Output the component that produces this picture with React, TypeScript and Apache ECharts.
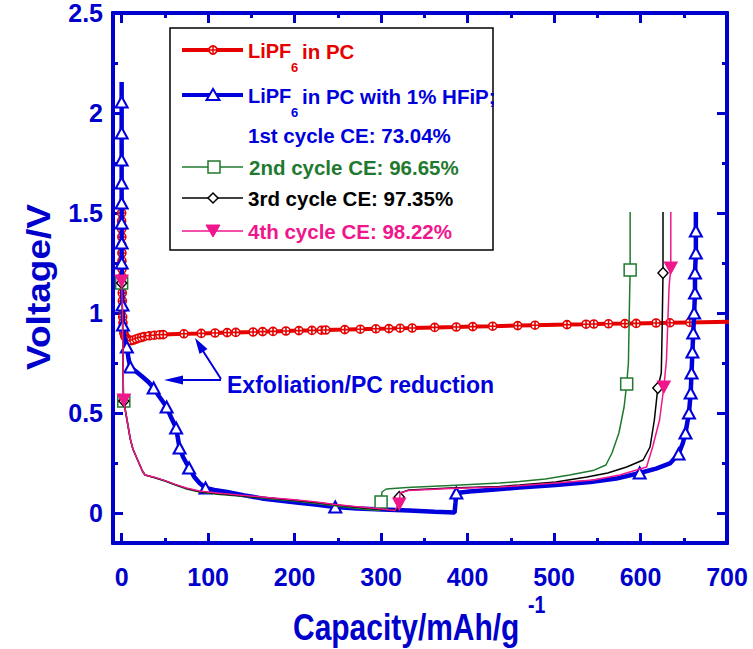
import React, { useEffect, useRef } from "react";
import * as echarts from "echarts";

// ---- tick values ----
const xMajorTicks = [0, 100, 200, 300, 400, 500, 600, 700];
const xMinorTicks = [50, 150, 250, 350, 450, 550, 650];
const yMajorTicks = [0, 0.5, 1, 1.5, 2, 2.5];
const yMinorTicks = [0.25, 0.75, 1.25, 1.75, 2.25];

// ---- series: [capacity mAh/g, voltage V, marker shown (1/0)] ----
const pcOnly: number[][] = [
  [0, 1.5, 1], [0, 1.46, 1], [0, 1.42, 1], [0.2, 1.38, 1], [0.2, 1.34, 1], [0.3, 1.3, 1], [0.3, 1.26, 1],
  [0.4, 1.22, 1], [0.5, 1.18, 1], [0.6, 1.14, 1], [0.7, 1.1, 1], [0.8, 1.06, 1], [1, 1.02, 1], [1.2, 0.98, 1],
  [1.5, 0.95, 1], [2, 0.92, 1], [2.5, 0.9, 1], [3.5, 0.885, 1], [5, 0.875, 1], [7, 0.868, 1], [9, 0.864, 1],
  [11, 0.862, 1], [14, 0.865, 1], [17, 0.87, 1], [20, 0.875, 1], [23, 0.878, 1], [26, 0.882, 1], [32, 0.886, 1],
  [38, 0.889, 1], [44, 0.891, 1], [48, 0.892, 1], [72, 0.896, 1], [92, 0.898, 1], [108, 0.9, 1], [122, 0.902, 1],
  [132, 0.903, 1], [152, 0.905, 1], [163, 0.907, 1], [175, 0.908, 1], [190, 0.91, 1], [205, 0.912, 1],
  [220, 0.913, 1], [231, 0.914, 1], [236, 0.915, 1], [258, 0.917, 1], [276, 0.919, 1], [294, 0.921, 1],
  [309, 0.922, 1], [322, 0.924, 1], [336, 0.925, 1], [362, 0.928, 1], [387, 0.93, 1], [406, 0.932, 1],
  [429, 0.934, 1], [458, 0.937, 1], [478, 0.939, 1], [515, 0.942, 1], [537, 0.944, 1], [546, 0.945, 1],
  [563, 0.946, 1], [582, 0.947, 1], [595, 0.948, 1], [618, 0.95, 1], [634, 0.951, 1], [657, 0.953, 1],
  [730, 0.958, 0],
];

const cycle1: number[][] = [
  [0, 2.155, 0], [0, 2.055, 1], [0, 1.9, 1], [0, 1.765, 1], [0, 1.65, 1], [0, 1.55, 1], [0, 1.45, 1],
  [0, 1.35, 1], [0, 1.25, 1], [1, 1.04, 1], [1.5, 0.94, 1], [3, 0.88, 0], [6, 0.83, 1], [8, 0.77, 0],
  [10, 0.73, 1], [16, 0.71, 0], [23, 0.685, 0], [31, 0.655, 0], [37, 0.625, 1], [43, 0.585, 0],
  [48, 0.555, 0], [52, 0.53, 1], [57, 0.48, 0], [63, 0.425, 1], [65, 0.375, 0], [67, 0.325, 1],
  [71, 0.28, 0], [78, 0.225, 1], [84, 0.18, 0], [90, 0.15, 0], [97, 0.125, 1], [107, 0.115, 0],
  [122, 0.105, 0], [142, 0.088, 0], [162, 0.073, 0], [182, 0.063, 0], [202, 0.053, 0], [224, 0.042, 0],
  [247, 0.03, 1], [272, 0.023, 0], [302, 0.017, 0], [332, 0.012, 0], [362, 0.006, 0], [385, 0.002, 0],
  [386, 0.05, 0], [387, 0.1, 1], [402, 0.108, 0], [432, 0.117, 0], [460, 0.128, 0], [502, 0.14, 0],
  [542, 0.155, 0], [572, 0.172, 0], [599, 0.2, 1], [618, 0.222, 0], [634, 0.248, 0], [644, 0.295, 1],
  [649, 0.35, 0], [652, 0.4, 1], [654, 0.45, 0], [656, 0.5, 1], [658, 0.6, 1], [659, 0.7, 1],
  [660, 0.805, 1], [661, 0.9, 1], [662, 1.0, 1], [663, 1.1, 1], [663, 1.2, 1], [664, 1.3, 1],
  [664, 1.41, 1], [664, 1.505, 0],
];

const cycle2: number[][] = [
  [0, 1.15, 1], [1, 1.0, 0], [1.5, 0.8, 0], [2, 0.6, 0], [2.5, 0.56, 1], [4, 0.52, 0], [6, 0.47, 0],
  [8, 0.42, 0], [10, 0.37, 0], [13, 0.32, 0], [17, 0.28, 0], [21, 0.24, 0], [24, 0.21, 0], [27, 0.19, 0],
  [39, 0.175, 0], [50, 0.16, 0], [62, 0.14, 0], [75, 0.12, 0], [90, 0.105, 0], [110, 0.094, 0],
  [135, 0.085, 0], [168, 0.073, 0], [200, 0.06, 0], [225, 0.048, 0], [247, 0.036, 0], [270, 0.024, 0],
  [290, 0.015, 0], [298, 0.012, 0], [300, 0.055, 1], [301, 0.105, 0], [306, 0.12, 0], [330, 0.128, 0],
  [380, 0.138, 0], [437, 0.15, 0], [460, 0.157, 0], [490, 0.17, 0], [518, 0.19, 0], [545, 0.212, 0],
  [560, 0.24, 0], [567, 0.3, 0], [575, 0.4, 0], [581, 0.53, 0], [584, 0.645, 1], [586, 0.75, 0],
  [587, 1.0, 0], [588, 1.215, 1], [588, 1.505, 0],
];

const cycle3: number[][] = [
  [0, 1.15, 1], [1, 1.0, 0], [1.5, 0.8, 0], [2, 0.6, 0], [2.5, 0.56, 1], [4, 0.52, 0], [6, 0.47, 0],
  [8, 0.42, 0], [10, 0.37, 0], [13, 0.32, 0], [17, 0.28, 0], [21, 0.24, 0], [24, 0.21, 0], [27, 0.19, 0],
  [39, 0.176, 0], [50, 0.161, 0], [62, 0.142, 0], [75, 0.123, 0], [90, 0.108, 0], [110, 0.097, 0],
  [135, 0.088, 0], [168, 0.076, 0], [200, 0.064, 0], [225, 0.053, 0], [247, 0.041, 0], [270, 0.03, 0],
  [295, 0.02, 0], [318, 0.012, 0], [321, 0.08, 1], [322, 0.1, 0], [332, 0.115, 0], [380, 0.125, 0],
  [437, 0.133, 0], [460, 0.14, 0], [502, 0.155, 0], [538, 0.18, 0], [562, 0.2, 0], [584, 0.23, 0],
  [603, 0.265, 0], [611, 0.33, 0], [616, 0.465, 0], [620, 0.625, 1], [624, 0.7, 0], [625, 0.915, 0],
  [626, 1.2, 1], [626, 1.505, 0],
];

const cycle4: number[][] = [
  [0, 1.16, 1], [1, 1.0, 0], [1.5, 0.8, 0], [2, 0.6, 0], [2.5, 0.565, 1], [4, 0.52, 0], [6, 0.47, 0],
  [8, 0.42, 0], [10, 0.37, 0], [13, 0.32, 0], [17, 0.28, 0], [21, 0.24, 0], [24, 0.21, 0], [27, 0.19, 0],
  [39, 0.177, 0], [50, 0.162, 0], [62, 0.143, 0], [75, 0.125, 0], [90, 0.11, 0], [110, 0.1, 0],
  [135, 0.09, 0], [168, 0.078, 0], [200, 0.066, 0], [225, 0.055, 0], [247, 0.043, 0], [270, 0.032, 0],
  [295, 0.022, 0], [316, 0.013, 0], [321, 0.045, 1], [322, 0.1, 0], [332, 0.113, 0], [380, 0.122, 0],
  [437, 0.13, 0], [502, 0.15, 0], [545, 0.165, 0], [576, 0.19, 0], [607, 0.23, 0], [614, 0.33, 0],
  [622, 0.465, 0], [627, 0.63, 1], [630, 0.765, 0], [633, 1.13, 0], [635, 1.225, 1], [635, 1.505, 0],
];

const seriesNames = [
  "LiPF6 in PC",
  "LiPF6 in PC with 1% HFiP; 1st cycle",
  "2nd cycle",
  "3rd cycle",
  "4th cycle",
];

const AX = "#0000cc";
const RED = "#e60000";
const BLUE = "#0000dd";
const GREEN = "#1f7a2f";
const BLACK = "#000000";
const PINK = "#f0168c";
const SANS = "'Liberation Sans', Arial, Helvetica, sans-serif";

const CROSS_CIRCLE = "path://M10,0A10,10,0,1,1,-10,0A10,10,0,1,1,10,0ZM-10,0L10,0M0,-10L0,10";

function toData(pts: number[][], symbol: string) {
  return pts.map(([x, y, m]) => ({ value: [x, y], symbol: m ? symbol : "none" }));
}

function makeXAxis(position: "top" | "bottom", ticks: number[], len: number, labels: boolean) {
  return {
    type: "value",
    min: -10,
    max: 700,
    position,
    splitLine: { show: false },
    axisLine: { show: true, onZero: false, lineStyle: { color: AX, width: 4 } },
    axisTick: { show: true, inside: true, length: len, customValues: ticks, lineStyle: { color: AX, width: 3 } },
    axisLabel: labels
      ? { show: true, customValues: ticks, color: AX, fontSize: 25, fontWeight: "bold", fontFamily: SANS, margin: 21 }
      : { show: false },
  };
}

function makeYAxis(position: "left" | "right", ticks: number[], len: number, labels: boolean) {
  return {
    type: "value",
    min: -0.15,
    max: 2.5,
    position,
    splitLine: { show: false },
    axisLine: { show: true, onZero: false, lineStyle: { color: AX, width: 4 } },
    axisTick: { show: true, inside: true, length: len, customValues: ticks, lineStyle: { color: AX, width: 3 } },
    axisLabel: labels
      ? { show: true, customValues: ticks, color: AX, fontSize: 25, fontWeight: "bold", fontFamily: SANS, margin: 10 }
      : { show: false },
  };
}

function legendText(x: number, y: number, text: string, fill: string, size = 20.5) {
  return {
    type: "text",
    x,
    y,
    z: 20,
    style: { text, fill, fontSize: size, fontWeight: "bold", fontFamily: SANS, textAlign: "left", textVerticalAlign: "middle" },
  };
}

function legendLine(y: number, color: string, width: number) {
  return { type: "line", z: 20, shape: { x1: 182, y1: y, x2: 243, y2: y }, style: { stroke: color, lineWidth: width } };
}

export default function App() {
  const ref = useRef<HTMLDivElement>(null);

  useEffect(() => {
    if (!ref.current) return;
    const chart = echarts.init(ref.current, null, { renderer: "svg" });

    const graphic: any[] = [
      // legend box
      { type: "rect", z: 19, shape: { x: 170, y: 28, width: 323, height: 222 }, style: { fill: "#fff", stroke: "#000", lineWidth: 1.5 } },
      // row 1: LiPF6 in PC
      legendLine(50, RED, 4),
      { type: "circle", z: 21, shape: { cx: 213, cy: 50, r: 4 }, style: { fill: "#fff", stroke: RED, lineWidth: 1.8 } },
      { type: "line", z: 22, shape: { x1: 209, y1: 50, x2: 217, y2: 50 }, style: { stroke: RED, lineWidth: 1.5 } },
      { type: "line", z: 22, shape: { x1: 213, y1: 46, x2: 213, y2: 54 }, style: { stroke: RED, lineWidth: 1.5 } },
      legendText(248, 51, "LiPF", RED, 20),
      legendText(291, 67, "6", RED, 13),
      legendText(302, 51, "in PC", RED),
      // row 2: with HFiP
      legendLine(95, BLUE, 4),
      { type: "polygon", z: 21, shape: { points: [[213, 89], [206.5, 100], [219.5, 100]] }, style: { fill: "#fff", stroke: BLUE, lineWidth: 2 } },
      legendText(248, 96, "LiPF", BLUE, 20),
      legendText(291, 112, "6", BLUE, 13),
      legendText(302, 96, "in PC with 1% HFiP;", BLUE),
      legendText(248, 135, "1st cycle CE: 73.04%", BLUE),
      // row 4: 2nd cycle
      legendLine(167, GREEN, 1.5),
      { type: "rect", z: 21, shape: { x: 208, y: 161, width: 12, height: 12 }, style: { fill: "#fff", stroke: GREEN, lineWidth: 1.5 } },
      legendText(249, 167, "2nd cycle CE: 96.65%", GREEN),
      // row 5: 3rd cycle
      legendLine(198, BLACK, 1.5),
      { type: "polygon", z: 21, shape: { points: [[213, 193], [218, 198], [213, 203], [208, 198]] }, style: { fill: "#fff", stroke: BLACK, lineWidth: 1.5 } },
      legendText(248, 198, "3rd cycle CE: 97.35%", BLACK),
      // row 6: 4th cycle
      legendLine(231, PINK, 1.5),
      { type: "polygon", z: 21, shape: { points: [[206, 225], [220, 225], [213, 237]] }, style: { fill: PINK, stroke: PINK, lineWidth: 1 } },
      legendText(248, 231, "4th cycle CE: 98.22%", PINK),
      // annotation
      { type: "line", z: 20, shape: { x1: 221, y1: 380, x2: 180, y2: 380 }, style: { stroke: BLUE, lineWidth: 2 } },
      { type: "polygon", z: 20, shape: { points: [[164, 380], [183, 375.5], [183, 384.5]] }, style: { fill: BLUE } },
      { type: "line", z: 20, shape: { x1: 221, y1: 379, x2: 203, y2: 351 }, style: { stroke: BLUE, lineWidth: 2 } },
      { type: "polygon", z: 20, shape: { points: [[195, 338], [207.5, 349], [199.5, 354]] }, style: { fill: BLUE } },
      {
        type: "text", z: 20, x: 227, y: 385,
        style: { text: "Exfoliation/PC reduction", fill: BLUE, fontSize: 23, fontWeight: "bold", fontFamily: SANS, textAlign: "left", textVerticalAlign: "middle" },
      },
      // axis titles
      {
        type: "text", z: 20, x: 293, y: 627, scaleX: 0.81,
        style: { text: "Capacity/mAh/g", fill: AX, fontSize: 37, fontWeight: "bold", fontFamily: SANS, textAlign: "left", textVerticalAlign: "middle" },
      },
      {
        type: "text", z: 20, x: 528, y: 605, scaleX: 0.85,
        style: { text: "-1", fill: AX, fontSize: 23, fontWeight: "bold", fontFamily: SANS, textAlign: "left", textVerticalAlign: "middle" },
      },
      {
        type: "text", z: 20, x: 38, y: 287, rotation: Math.PI / 2, scaleY: 0.9,
        style: { text: "Voltage/V", fill: AX, fontSize: 37, fontWeight: "bold", fontFamily: SANS, textAlign: "center", textVerticalAlign: "middle" },
      },
    ];

    const lineBase = {
      type: "line",
      xAxisIndex: 0,
      yAxisIndex: 0,
      showSymbol: true,
      showAllSymbol: true,
      silent: true,
      emphasis: { disabled: true },
    };

    chart.setOption({
      animation: false,
      backgroundColor: "#ffffff",
      grid: { left: 113, top: 13, width: 614, height: 530, containLabel: false },
      xAxis: [
        makeXAxis("bottom", xMajorTicks, 10, true),
        makeXAxis("bottom", xMinorTicks, 5, false),
        makeXAxis("top", xMajorTicks, 10, false),
        makeXAxis("top", xMinorTicks, 5, false),
      ],
      yAxis: [
        makeYAxis("left", yMajorTicks, 10, true),
        makeYAxis("left", yMinorTicks, 5, false),
        makeYAxis("right", yMajorTicks, 10, false),
        makeYAxis("right", yMinorTicks, 5, false),
      ],
      graphic,
      series: [
        {
          ...lineBase,
          name: seriesNames[0],
          z: 3,
          clip: false,
          data: toData(pcOnly, CROSS_CIRCLE),
          symbolSize: 8,
          lineStyle: { color: RED, width: 4 },
          itemStyle: { color: "#fff", borderColor: RED, borderWidth: 1.6 },
        },
        {
          ...lineBase,
          name: seriesNames[1],
          z: 4,
          data: toData(cycle1, "triangle"),
          symbolSize: [12, 11],
          lineStyle: { color: BLUE, width: 4.5 },
          itemStyle: { color: "#fff", borderColor: BLUE, borderWidth: 2 },
        },
        {
          ...lineBase,
          name: seriesNames[2],
          z: 5,
          data: toData(cycle2, "rect"),
          symbolSize: 12,
          lineStyle: { color: GREEN, width: 1.5 },
          itemStyle: { color: "#fff", borderColor: GREEN, borderWidth: 1.5 },
        },
        {
          ...lineBase,
          name: seriesNames[3],
          z: 6,
          data: toData(cycle3, "diamond"),
          symbolSize: [10, 11],
          lineStyle: { color: BLACK, width: 1.5 },
          itemStyle: { color: "#fff", borderColor: BLACK, borderWidth: 1.5 },
        },
        {
          ...lineBase,
          name: seriesNames[4],
          z: 7,
          data: toData(cycle4, "triangle"),
          symbolRotate: 180,
          symbolSize: [13, 12],
          lineStyle: { color: PINK, width: 1.5 },
          itemStyle: { color: PINK, borderColor: PINK, borderWidth: 1 },
        },
      ],
    });

    return () => chart.dispose();
  }, []);

  return (
    <div
      ref={ref}
      style={{ position: "absolute", left: 0, top: 0, width: 753, height: 649, background: "#fff" }}
    />
  );
}
